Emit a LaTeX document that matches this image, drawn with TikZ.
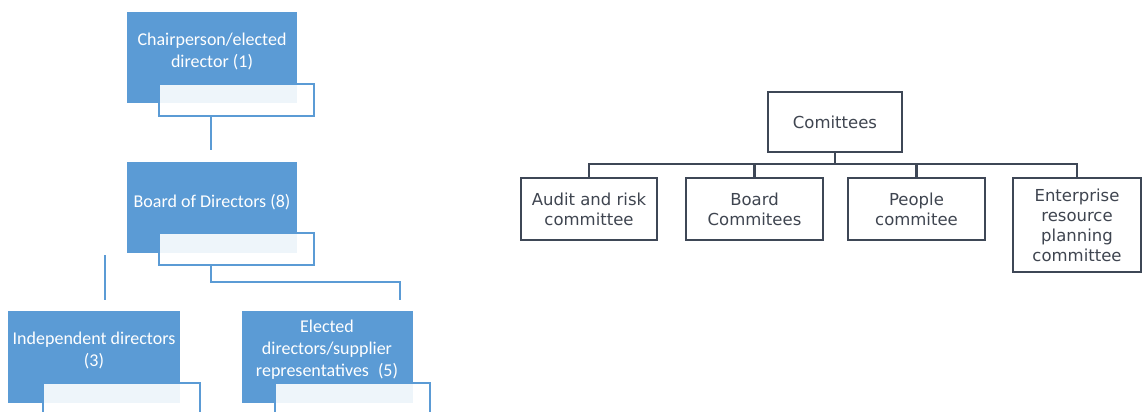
\documentclass[tikz,border=0pt]{standalone}
\usepackage{fontspec}
\setmainfont{Carlito}
\newfontfamily\labelfont{DejaVu Sans}
\definecolor{orgblue}{HTML}{5B9BD5}
\definecolor{slate}{HTML}{3E4756}
\definecolor{inkgrey}{HTML}{3F4550}

\begin{document}
\begin{tikzpicture}[x=1pt,y=-1pt,
  bluebox/.style={draw=none, fill=orgblue, inner sep=0pt, outer sep=0pt, anchor=north west},
  whitetext/.style={text=white, font=\fontsize{18}{22}\selectfont, align=center, inner sep=0pt},
  tab/.style={draw=orgblue, line width=1.5pt, fill=white, fill opacity=0.9, inner sep=0pt, outer sep=0pt,
    anchor=north west, minimum width=155pt, minimum height=32pt},
  bluelink/.style={draw=orgblue, line width=2pt},
  cbox/.style={draw=slate, line width=2pt, fill=white, inner sep=0pt, outer sep=0pt, anchor=north west,
    text=inkgrey, align=center, font=\labelfont\fontsize{16.5}{20}\selectfont},
  clink/.style={draw=slate, line width=2.2pt}
]
\useasboundingbox (0,0) rectangle (1143,412);

% ---- board structure ----
\node[bluebox, minimum width=170pt, minimum height=91pt] (chair) at (127,12) {};
\node[whitetext] (chairtext) at (212,51) {Chairperson/elected\\director (1)};
\node[tab] (chairtab) at (159,84) {};

\node[bluebox, minimum width=170pt, minimum height=91pt] (board) at (127,162) {};
\node[whitetext] (boardtext) at (212,202) {Board of Directors (8)};
\node[tab] (boardtab) at (159,233) {};

\node[bluebox, minimum width=172pt, minimum height=92pt] (indep) at (8,311) {};
\node[whitetext] (indeptext) at (94,350) {Independent directors\\(3)};
\node[tab, minimum width=157pt] (indeptab) at (43,383) {};

\node[bluebox, minimum width=171pt, minimum height=92pt] (elected) at (242,311) {};
\node[whitetext] (electedtext) at (327,350) {Elected\\directors/supplier\\representatives\enspace(5)};
\node[tab] (electedtab) at (275,383) {};

% connectors
\coordinate (boardin) at (211,150);
\draw[bluelink] (boardin |- chairtab.south) -- (boardin);

\coordinate (elbow) at (211,282);
\coordinate (electedin) at (400,300);
\draw[bluelink] (elbow |- boardtab.south) -- (elbow) -| (electedin);

\coordinate (indtop) at (105,255);
\coordinate (indin) at (105,300);
\draw[bluelink] (indtop) -- (indin);

% ---- committees ----
\node[cbox, minimum width=134pt, minimum height=60pt] (comm) at (768,92) {Comittees};
\node[cbox, minimum width=136pt, minimum height=62pt] (audit) at (521,178) {Audit and risk\\committee};
\node[cbox, minimum width=137pt, minimum height=62pt] (boardc) at (686,178) {Board\\Commitees};
\node[cbox, minimum width=137pt, minimum height=62pt] (people) at (848,178) {People\\commitee};
\node[cbox, minimum width=128pt, minimum height=94pt] (erp) at (1013,178) {Enterprise\\resource\\planning\\committee};

\coordinate (bus) at (835,164);
\draw[clink] (comm.south) -- (bus);
\draw[clink] (bus) -| (audit.north);
\draw[clink] (bus) -| (boardc.north);
\draw[clink] (bus) -| (people.north);
\draw[clink] (bus) -| (erp.north);
\end{tikzpicture}
\end{document}
